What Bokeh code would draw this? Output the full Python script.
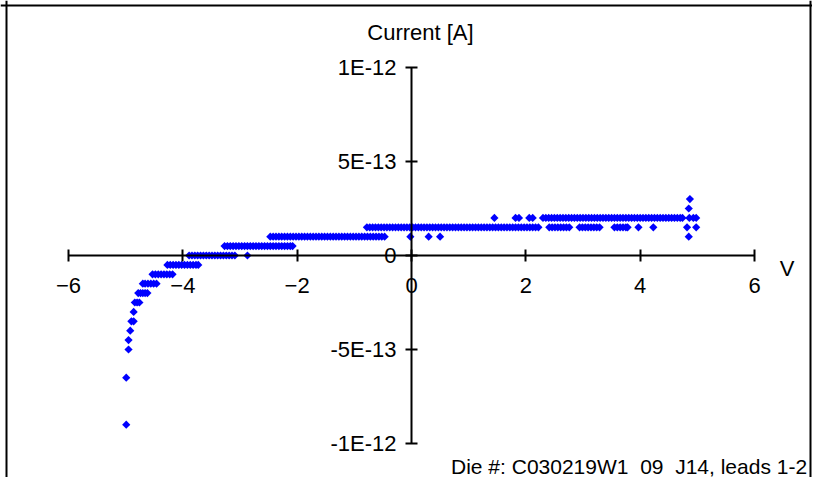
import math
from bokeh.plotting import figure
from bokeh.models import Range1d, LinearAxis, FixedTicker, Span, Label, ColumnDataSource
from bokeh.embed import file_html
from bokeh.resources import INLINE

FONT = "Liberation Sans"

# ---- data (current in pA, i.e. 1E-12 A; voltage in V) ----
x_ticks = [-6, -4, -2, 0, 2, 4, 6]
y_ticks = [-1.0, -0.5, 0.0, 0.5, 1.0]
y_tick_labels = ["-1E-12", "-5E-13", "0", "5E-13", "1E-12"]

v_m090 = [-4.99]
v_m065 = [-4.99]
v_m050 = [-4.95]
v_m045 = [-4.95]
v_m040 = [-4.92]
v_m035 = [-4.90, -4.86]
v_m030 = [-4.86]
v_m025 = [-4.84, -4.80, -4.76]
v_m020 = [-4.78, -4.74, -4.70, -4.66, -4.62]
v_m015 = [-4.70, -4.66, -4.61, -4.56, -4.51, -4.46]
v_m010 = [-4.53, -4.48, -4.43, -4.38, -4.33, -4.28, -4.23, -4.18]
v_m005 = [-4.27, -4.22, -4.17, -4.12, -4.07, -4.02, -3.97, -3.92, -3.87, -3.82, -3.77, -3.73]
v_p000 = [-3.89, -3.84, -3.79, -3.74, -3.69, -3.64, -3.59, -3.54, -3.49, -3.44, -3.39,
          -3.34, -3.29, -3.24, -3.19, -3.14, -3.09, -2.87]
v_p005 = [-3.27, -3.22, -3.17, -3.12, -3.07, -3.02, -2.97, -2.92, -2.87, -2.82, -2.77,
          -2.72, -2.67, -2.62, -2.57, -2.52, -2.47, -2.42, -2.37, -2.32, -2.27, -2.22,
          -2.17, -2.12, -2.08]
v_p010 = [-2.47, -2.42, -2.37, -2.32, -2.27, -2.22, -2.17, -2.12, -2.07, -2.02,
          -1.97, -1.92, -1.87, -1.82, -1.77, -1.72, -1.67, -1.62, -1.57, -1.52,
          -1.47, -1.42, -1.37, -1.32, -1.27, -1.22, -1.17, -1.12, -1.07, -1.02,
          -0.97, -0.92, -0.87, -0.82, -0.77, -0.72, -0.67, -0.62, -0.57, -0.52,
          -0.47, -0.02, 0.30, 0.50, 4.85]
v_p015 = [-0.78, -0.73, -0.68, -0.63, -0.58, -0.53, -0.48, -0.43, -0.38, -0.33,
          -0.28, -0.23, -0.18, -0.13, -0.08, -0.03, 0.02, 0.07, 0.12, 0.17,
          0.22, 0.27, 0.32, 0.37, 0.42, 0.47, 0.52, 0.57, 0.62, 0.67,
          0.72, 0.77, 0.82, 0.87, 0.92, 0.97, 1.02, 1.07, 1.12, 1.17,
          1.22, 1.27, 1.32, 1.37, 1.42, 1.47, 1.52, 1.57, 1.62, 1.67,
          1.72, 1.77, 1.82, 1.87, 1.92, 1.97, 2.02, 2.07, 2.12, 2.17, 2.22,
          2.41, 2.46, 2.51, 2.56, 2.61, 2.66, 2.71, 2.76,
          2.94, 2.99, 3.04, 3.09, 3.14, 3.19, 3.24, 3.29,
          3.55, 3.60, 3.65, 3.70, 3.75, 3.78, 3.97, 4.23, 4.82, 4.98]
v_p020 = [1.45, 1.82, 1.88, 2.06, 2.12,
          2.30, 2.35, 2.40, 2.45, 2.50, 2.55, 2.60, 2.65, 2.70, 2.75,
          2.80, 2.85, 2.90, 2.95, 3.00, 3.05, 3.10, 3.15, 3.20, 3.25,
          3.30, 3.35, 3.40, 3.45, 3.50, 3.55, 3.60, 3.65, 3.70, 3.75,
          3.80, 3.85, 3.90, 3.95, 4.00, 4.05, 4.10, 4.15, 4.20, 4.25,
          4.30, 4.35, 4.40, 4.45, 4.50, 4.55, 4.60, 4.65, 4.70, 4.74,
          4.86, 4.93, 4.98]
v_p025 = [4.85]
v_p030 = [4.87]

levels_pA = [-0.90, -0.65, -0.50, -0.45, -0.40, -0.35, -0.30, -0.25, -0.20, -0.15,
             -0.10, -0.05, 0.00, 0.05, 0.10, 0.15, 0.20, 0.25, 0.30]
level_voltages = [v_m090, v_m065, v_m050, v_m045, v_m040, v_m035, v_m030, v_m025,
                  v_m020, v_m015, v_m010, v_m005, v_p000, v_p005, v_p010, v_p015,
                  v_p020, v_p025, v_p030]

xs, ys = [], []
for lvl, vs in zip(levels_pA, level_voltages):
    xs.extend(vs)
    ys.extend([lvl] * len(vs))
src = ColumnDataSource(data=dict(v=xs, i=ys))

# ---- figure ----
p = figure(width=812, height=477,
           x_range=Range1d(-7.1895, 7.0146), y_range=Range1d(-1.1809, 1.3564),
           x_axis_type=None, y_axis_type=None,
           output_backend="svg", toolbar_location=None, min_border=0)
p.grid.visible = False
p.outline_line_color = None
p.background_fill_color = "white"
p.border_fill_color = "white"

def style_axis(ax):
    ax.axis_line_color = "black"
    ax.axis_line_width = 2
    ax.major_tick_line_color = "black"
    ax.major_tick_line_width = 2
    ax.major_tick_in = 6
    ax.major_tick_out = 6
    ax.minor_tick_line_color = None
    ax.major_label_text_font = FONT
    ax.major_label_text_font_size = "22px"
    ax.major_label_text_color = "black"

xaxis = LinearAxis(fixed_location=0, ticker=FixedTicker(ticks=x_ticks), bounds=(-6, 6))
style_axis(xaxis)
xaxis.major_label_standoff = 17
p.add_layout(xaxis, "below")

overrides = {}
for t, lab in zip(y_ticks, y_tick_labels):
    overrides[t] = lab
yaxis = LinearAxis(fixed_location=0, ticker=FixedTicker(ticks=y_ticks), bounds=(-1, 1),
                   major_label_overrides=overrides)
style_axis(yaxis)
yaxis.major_label_standoff = 9
p.add_layout(yaxis, "left")

p.scatter("v", "i", source=src, marker="square", angle=math.pi / 4, size=5.8,
          fill_color="#0000FF", line_color=None)

# frame (left, top, right)
p.add_layout(Span(location=-7.0845, dimension="height", line_color="black", line_width=2))
p.add_layout(Span(location=6.9796, dimension="height", line_color="black", line_width=2))
p.add_layout(Span(location=1.3298, dimension="width", line_color="black", line_width=2))

p.add_layout(Label(x=0.157, y=1.186, text="Current [A]", text_align="center",
                   text_baseline="alphabetic", text_font=FONT, text_font_size="22px",
                   text_color="black"))
p.add_layout(Label(x=6.569, y=-0.069, text="V", text_align="center",
                   text_baseline="alphabetic", text_font=FONT, text_font_size="22px",
                   text_color="black"))
p.add_layout(Label(x=6.92, y=-1.122, text="Die #: C030219W1_09_J14, leads 1-2",
                   text_align="right", text_baseline="alphabetic", text_font=FONT,
                   text_font_size="21px", text_color="black"))

open("out.html", "w").write(file_html(p, INLINE))
